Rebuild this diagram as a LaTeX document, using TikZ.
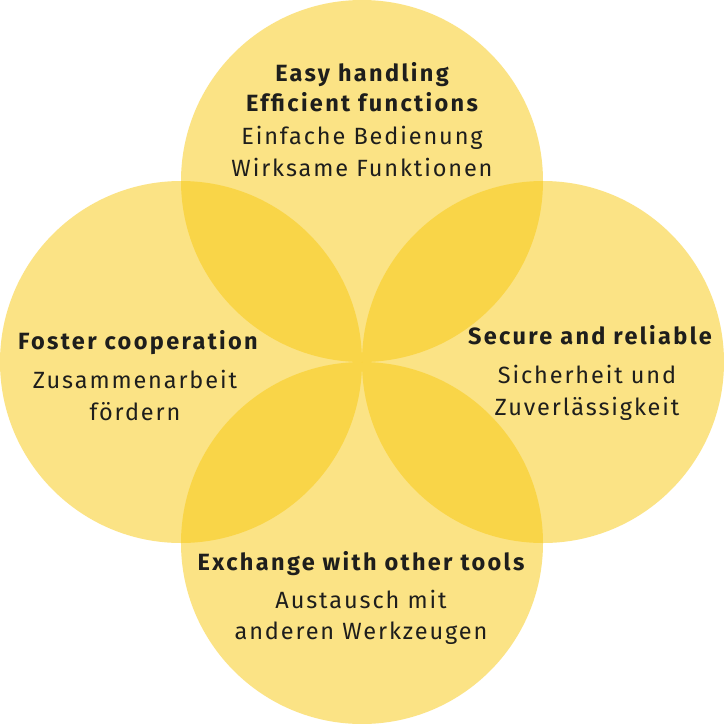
\documentclass[tikz,border=0pt]{standalone}
\usepackage{fontspec}
\setmainfont{Fira Sans}
\newfontfamily\headfont[LetterSpace=10]{Fira Sans Bold}
\newfontfamily\subfont[LetterSpace=8]{Fira Sans}
\definecolor{gold}{RGB}{249,200,12}
\definecolor{ink}{RGB}{30,30,28}
\tikzset{
  petal/.style={fill=gold, fill opacity=0.5, draw=none},
  head/.style={anchor=base, text=ink, font=\headfont\fontsize{23.5}{26}\selectfont, inner sep=0pt},
  sub/.style={anchor=base, text=ink, font=\subfont\fontsize{23.5}{31.5}\selectfont, align=center, inner sep=0pt},
}
\begin{document}
\begin{tikzpicture}[x=1pt,y=-1pt]
\useasboundingbox (0,0) rectangle (724,724);
\fill[white] (0,0) rectangle (724,724);
\path[petal] (362,181) circle (181);
\path[petal] (181,362) circle (181);
\path[petal] (543,362) circle (181);
\path[petal] (362,543) circle (181);
% top
\node[head] (t1) at (362,81) {Easy handling};
\node[head] (t2) at (362,111.5) {Efficient functions};
\node[sub] (t3) at (362,144) {Einfache Bedienung};
\node[sub] (t4) at (362,176) {Wirksame Funktionen};
% left
\node[head] (l1) at (138,349) {Foster cooperation};
\node[sub] (l2) at (135,388) {Zusammenarbeit};
\node[sub] (l3) at (135,420) {fördern};
% right
\node[head] (r1) at (590,344) {Secure and reliable};
\node[sub] (r2) at (587,383) {Sicherheit und};
\node[sub] (r3) at (587,415) {Zuverlässigkeit};
% bottom
\node[head] (b1) at (361,570.5) {Exchange with other tools};
\node[sub] (b2) at (361,608) {Austausch mit};
\node[sub] (b3) at (361,639) {anderen Werkzeugen};
\end{tikzpicture}
\end{document}
